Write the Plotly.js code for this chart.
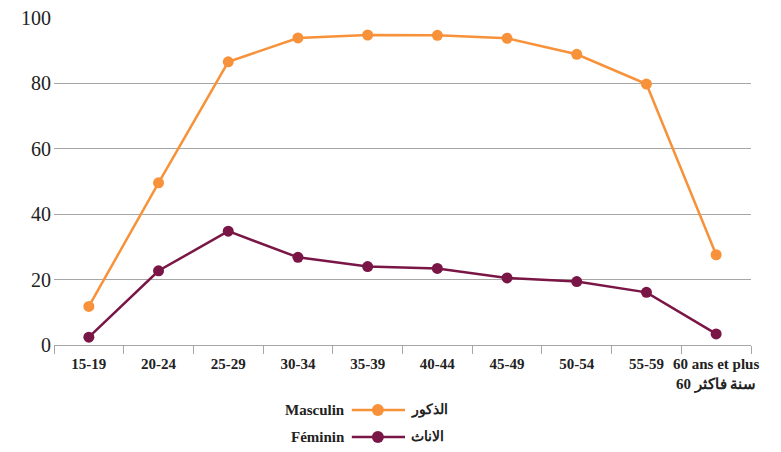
<!DOCTYPE html>
<html>
<head>
<meta charset="utf-8">
<script src="https://cdn.plot.ly/plotly-3.0.1.min.js"></script>
<style>html,body{margin:0;padding:0;background:#fff}#chart{width:781px;height:452px}</style>
</head>
<body>
<div id="chart"></div>
<script>
const categories = ["15-19","20-24","25-29","30-34","35-39","40-44","45-49","50-54","55-59","60 ans et plus<br>60 سنة فاكثر"];
const masculin = [11.8, 49.6, 86.6, 93.9, 94.8, 94.7, 93.8, 88.9, 79.8, 27.6];
const feminin = [2.4, 22.7, 34.8, 26.8, 24.0, 23.4, 20.5, 19.4, 16.1, 3.4];
const nameMasculinAr = "الذكور";
const nameFemininAr = "الاناث";
const nameMasculinFr = "Masculin";
const nameFemininFr = "Féminin";
const colorM = '#F7923A';
const colorF = '#7A1646';

const serif = 'Liberation Serif, Times New Roman, DejaVu Serif, serif';
const traces = [
  {x: categories, y: masculin, name: nameMasculinAr, type: 'scatter', mode: 'lines+markers',
   line: {color: colorM, width: 2.5}, marker: {color: colorM, size: 11}},
  {x: categories, y: feminin, name: nameFemininAr, type: 'scatter', mode: 'lines+markers',
   line: {color: colorF, width: 2.5}, marker: {color: colorF, size: 11}}
];

// legend drawn in paper coordinates
const legRows = [
  {fr: nameMasculinFr, ar: nameMasculinAr, color: colorM, y: -0.199},
  {fr: nameFemininFr, ar: nameFemininAr, color: colorF, y: -0.281}
];
const shapes = [];
const annotations = [];
legRows.forEach(r => {
  shapes.push({type: 'line', xref: 'paper', yref: 'paper', x0: 0.4273, x1: 0.5036, y0: r.y, y1: r.y,
    line: {color: r.color, width: 2.5}});
  shapes.push({type: 'circle', xref: 'paper', yref: 'paper', xsizemode: 'pixel', ysizemode: 'pixel',
    xanchor: 0.4647, yanchor: r.y, x0: -6, x1: 6, y0: -6, y1: 6,
    fillcolor: r.color, line: {color: r.color, width: 0}});
  annotations.push({text: '<b>' + r.fr + '</b>', xref: 'paper', yref: 'paper', x: 0.421, y: r.y,
    xanchor: 'right', yanchor: 'middle', showarrow: false, font: {family: serif, size: 15, color: '#222'}});
  annotations.push({text: '<b>' + r.ar + '</b>', xref: 'paper', yref: 'paper', x: 0.509, y: r.y,
    xanchor: 'left', yanchor: 'middle', showarrow: false, font: {family: serif, size: 14, color: '#222'}});
});

const layout = {
  width: 781, height: 452,
  margin: {l: 54, r: 30, t: 18, b: 107},
  font: {family: serif},
  paper_bgcolor: '#fff', plot_bgcolor: '#fff',
  showlegend: false,
  xaxis: {type: 'category', range: [-0.5, 9.5], automargin: false, showgrid: false, showline: true, linecolor: '#a6a6a6', linewidth: 1,
    ticks: 'outside', tickson: 'boundaries', ticklen: 8, tickcolor: '#a6a6a6', tickangle: 0, ticklabelstandoff: 5,
    tickfont: {family: serif, size: 15, color: '#222', weight: 'bold'}, zeroline: false},
  yaxis: {range: [0, 100], dtick: 20, automargin: false, showgrid: true, gridcolor: '#a6a6a6', gridwidth: 1,
    showline: false, zeroline: false, ticks: '', ticklabelstandoff: 2,
    tickfont: {family: serif, size: 20, color: '#222'}},
  shapes: shapes,
  annotations: annotations
};
Plotly.newPlot('chart', traces, layout, {displayModeBar: false, staticPlot: true});
</script>
</body>
</html>
